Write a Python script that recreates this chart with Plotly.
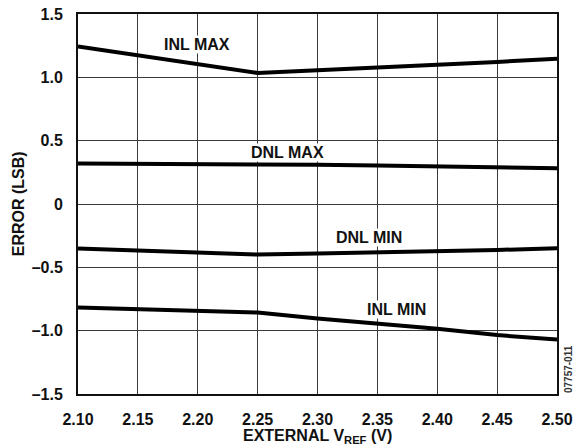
import plotly.graph_objects as go

vref = [2.10, 2.15, 2.20, 2.25, 2.30, 2.35, 2.40, 2.45, 2.50]
inl_max = [1.244, 1.173, 1.100, 1.035, 1.055, 1.075, 1.097, 1.122, 1.147]
dnl_max = [0.320, 0.319, 0.318, 0.316, 0.310, 0.303, 0.297, 0.290, 0.282]
dnl_min = [-0.352, -0.368, -0.384, -0.399, -0.390, -0.383, -0.373, -0.363, -0.349]
inl_min = [-0.817, -0.833, -0.846, -0.857, -0.904, -0.943, -0.985, -1.035, -1.070]

series = [("INL MAX", inl_max), ("DNL MAX", dnl_max), ("DNL MIN", dnl_min), ("INL MIN", inl_min)]
label_pos = {"INL MAX": (2.199, 1.26), "DNL MAX": (2.275, 0.41),
             "DNL MIN": (2.343, -0.265), "INL MIN": (2.366, -0.833)}

x_ticks = [2.10, 2.15, 2.20, 2.25, 2.30, 2.35, 2.40, 2.45, 2.50]
x_ticktext = ["2.10", "2.15", "2.20", "2.25", "2.30", "2.35", "2.40", "2.45", "2.50"]
y_ticks = [1.5, 1.0, 0.5, 0, -0.5, -1.0, -1.5]
y_ticktext = ["1.5", "1.0", "0.5", "0", "–0.5", "–1.0", "–1.5"]

FONT = "Liberation Sans, Arial, Helvetica, sans-serif"
L, R, T, B = 78, 17, 13.5, 54
W, H = 574, 448
PW, PH = W - L - R, H - T - B

fig = go.Figure()
for name, vals in series:
    fig.add_trace(go.Scatter(x=vref, y=vals, mode="lines", name=name,
                             line=dict(color="black", width=4), showlegend=False))

bold = dict(family=FONT, size=16, color="#111", weight="bold")
annotations = []
for name, (lx, ly) in label_pos.items():
    annotations.append(dict(x=lx, y=ly, xref="x", yref="y", text=name, showarrow=False,
                            font=bold, bgcolor="white", borderpad=0))
# axis titles
annotations.append(dict(x=0.5, y=(T + PH - 436.5) / PH, xref="paper", yref="paper",
                        text="EXTERNAL V<sub>REF</sub> (V)", showarrow=False,
                        xanchor="center", yanchor="middle", font=bold))
annotations.append(dict(x=(18 - L) / PW, y=(T + PH - 204) / PH, xref="paper", yref="paper",
                        text="ERROR (LSB)", showarrow=False, textangle=-90,
                        xanchor="center", yanchor="middle", font=bold))
# watermark
annotations.append(dict(x=(568 - L) / PW, y=(T + PH - 369) / PH, xref="paper", yref="paper",
                        text="07757-011", showarrow=False, textangle=-90,
                        xanchor="center", yanchor="middle",
                        font=dict(family=FONT, size=10, color="#333")))

axis_common = dict(showgrid=True, gridcolor="#3a3a3a", gridwidth=1.3,
                   showline=True, linecolor="#111", linewidth=2, mirror=True,
                   zeroline=False, ticks="", ticklabelstandoff=10, automargin=False,
                   tickfont=bold)

fig.update_layout(
    template="none",
    width=W, height=H,
    margin=dict(l=L, r=R, t=T, b=B, autoexpand=False),
    paper_bgcolor="white", plot_bgcolor="white",
    font=dict(family=FONT, size=16, color="#111", weight="bold"),
    annotations=annotations,
    xaxis=dict(range=[2.10, 2.50], tickvals=x_ticks, ticktext=x_ticktext, **axis_common),
    yaxis=dict(range=[-1.5, 1.5], tickvals=y_ticks, ticktext=y_ticktext, **axis_common),
)

fig.write_html("out.html",
               config={"displayModeBar": False},
               post_script="document.body.style.margin='0';document.body.style.overflow='hidden';")
